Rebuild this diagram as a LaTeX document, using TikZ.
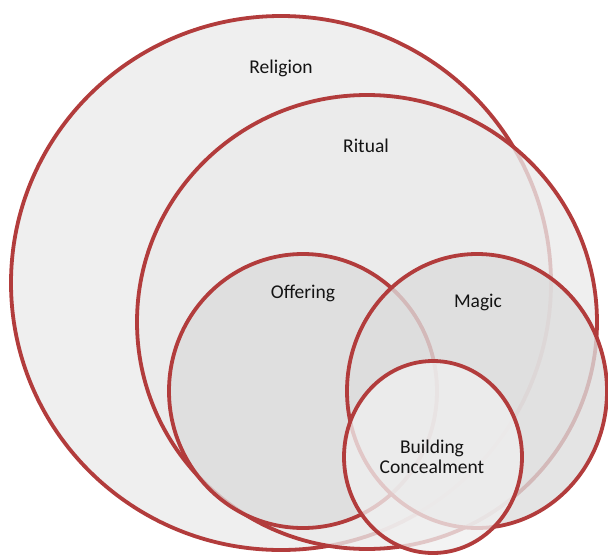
\documentclass[tikz,border=0pt]{standalone}
\usepackage{fontspec}
\setmainfont{Carlito}
\usepackage{xcolor}
\usepackage{tikz}
\usetikzlibrary{shapes.geometric}
\definecolor{vennred}{HTML}{B23C3C}
\definecolor{outerfill}{HTML}{EAEAEA}
\definecolor{innerfill}{HTML}{DDDDDD}
\definecolor{lightfill}{HTML}{EFEFEF}

\begin{document}
\begin{tikzpicture}[
x=1pt,y=-1pt,
venn/.style={ellipse,draw=vennred,line width=3.8pt,fill opacity=0.78,inner sep=0pt},
lbl/.style={font=\fontsize{19.5}{19.5}\selectfont,text=black!92,align=center}
]
\useasboundingbox (0,0) rectangle (608,555);
\node[venn,fill=outerfill,minimum width=540pt,minimum height=534pt] (religion) at (281,283) {};
\node[venn,fill=outerfill,minimum width=460pt,minimum height=454pt] (ritual) at (367,322) {};
\node[venn,fill=innerfill,minimum width=268pt,minimum height=274pt] (offering) at (303,391) {};
\node[venn,fill=innerfill,minimum width=260pt,minimum height=274pt] (magic) at (477,391) {};
\node[venn,fill=lightfill,minimum width=178pt,minimum height=192pt] (building) at (433,457) {};
\node[lbl] (religionlbl) at (281,68) {Religion};
\node[lbl] (rituallbl) at (366,146) {Ritual};
\node[lbl] (offeringlbl) at (303,293) {Offering};
\node[lbl] (magiclbl) at (478,302) {Magic};
\node[lbl] (buildinglbl) at (432,457) {Building\\Concealment};
\end{tikzpicture}
\end{document}
